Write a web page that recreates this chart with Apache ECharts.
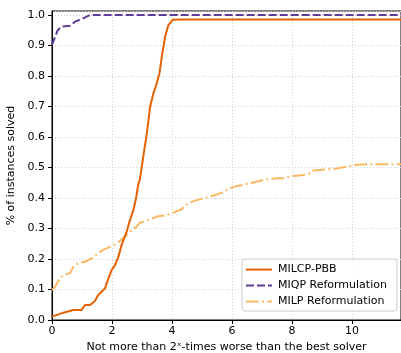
<!DOCTYPE html>
<html>
<head>
<meta charset="utf-8">
<script src="https://cdn.jsdelivr.net/npm/echarts@6/dist/echarts.min.js"></script>
<style>html,body{margin:0;padding:0;background:#fff;overflow:hidden;}#c{width:401px;height:353px;}</style>
</head>
<body>
<div id="c"></div>
<script>
const seriesNames = ['MILCP-PBB', 'MIQP Reformulation', 'MILP Reformulation'];

const pbbX = [0, 0.38, 0.71, 0.99, 1.1, 1.27, 1.43, 1.54, 1.77, 1.82, 1.99, 2.1, 2.21, 2.32, 2.49, 2.6, 2.71, 2.8, 2.88, 2.93, 3.04, 3.16, 3.27, 3.38, 3.49, 3.58, 3.66, 3.77, 3.88, 4.02, 4.3, 11.63];
const pbbY = [0.011, 0.024, 0.033, 0.033, 0.049, 0.049, 0.062, 0.082, 0.104, 0.12, 0.164, 0.18, 0.207, 0.246, 0.29, 0.328, 0.36, 0.399, 0.448, 0.46, 0.535, 0.612, 0.699, 0.743, 0.776, 0.809, 0.863, 0.929, 0.967, 0.984, 0.985, 0.985];

const miqpX = [0, 0.19, 0.32, 0.6, 0.77, 1.04, 1.27, 11.63];
const miqpY = [0.902, 0.95, 0.962, 0.965, 0.978, 0.989, 1.0, 1.0];

const milpX = [0, 0.1, 0.27, 0.38, 0.6, 0.71, 0.88, 1.1, 1.32, 1.54, 1.71, 1.93, 2.16, 2.43, 2.6, 2.82, 2.93, 3.16, 3.49, 3.82, 4.04, 4.32, 4.54, 4.82, 4.93, 5.27, 5.6, 5.93, 6.16, 6.6, 7.04, 7.49, 7.71, 8.04, 8.38, 8.6, 8.71, 9.16, 9.49, 9.82, 9.99, 10.1, 10.49, 11.63];
const milpY = [0.098, 0.109, 0.137, 0.148, 0.153, 0.175, 0.186, 0.191, 0.202, 0.219, 0.23, 0.24, 0.251, 0.273, 0.29, 0.306, 0.319, 0.326, 0.339, 0.344, 0.352, 0.363, 0.383, 0.393, 0.396, 0.404, 0.415, 0.432, 0.439, 0.448, 0.459, 0.465, 0.465, 0.472, 0.475, 0.481, 0.49, 0.494, 0.497, 0.503, 0.505, 0.508, 0.511, 0.511];

const xTicks = [0, 2, 4, 6, 8, 10];
const yTicks = [0.0, 0.1, 0.2, 0.3, 0.4, 0.5, 0.6, 0.7, 0.8, 0.9, 1.0];

const zip = (xs, ys) => xs.map((x, i) => [x, ys[i]]);
const font = 'DejaVu Sans';

const chart = echarts.init(document.getElementById('c'), null, {renderer: 'canvas'});
chart.setOption({
  animation: false,
  backgroundColor: '#fff',
  grid: {left: 52, right: 0, top: 11, bottom: 33, containLabel: false, outerBoundsMode: 'none',
    show: true, borderColor: '#000', borderWidth: 1, backgroundColor: 'transparent'},
  xAxis: {
    type: 'value', min: 0, max: 11.63, interval: 2,
    name: 'Not more than 2ˣ-times worse than the best solver',
    nameLocation: 'middle', nameGap: 22,
    nameTextStyle: {fontFamily: font, fontSize: 11, color: '#000'},
    axisLine: {lineStyle: {color: '#000', width: 1}},
    axisTick: {show: true, inside: false, length: 4, lineStyle: {color: '#000'}},
    axisLabel: {fontFamily: font, fontSize: 11, color: '#000', margin: 6, showMaxLabel: false,
      formatter: v => xTicks.includes(v) ? String(v) : ''},
    splitLine: {show: true, lineStyle: {color: '#d0d0d0', type: [1, 2], width: 1}}
  },
  yAxis: {
    type: 'value', min: 0, max: 1.013, interval: 0.1,
    name: '% of instances solved',
    nameLocation: 'middle', nameGap: 29,
    nameTextStyle: {fontFamily: font, fontSize: 11, color: '#000'},
    axisLine: {show: true, lineStyle: {color: '#000', width: 1}},
    axisTick: {show: true, inside: false, length: 4, lineStyle: {color: '#000'}},
    axisLabel: {fontFamily: font, fontSize: 11, color: '#000', margin: 7, showMaxLabel: false,
      formatter: v => {
        const t = yTicks.find(t => Math.abs(t - v) < 1e-6);
        return t === undefined ? '' : t.toFixed(1);
      }},
    splitLine: {show: true, lineStyle: {color: '#d0d0d0', type: [1, 2], width: 1}}
  },
  legend: {
    orient: 'vertical', left: 242, top: 259,
    padding: [5, 10, 4, 3], itemGap: 4.7, itemWidth: 26, itemHeight: 14,
    backgroundColor: 'rgba(255,255,255,0.85)', borderColor: '#cccccc', borderWidth: 1, borderRadius: 3,
    itemStyle: {opacity: 0},
    textStyle: {fontFamily: font, fontSize: 11, color: '#000', padding: [0, 0, 0, 1]},
    data: seriesNames
  },
  series: [
    {name: seriesNames[0], type: 'line', data: zip(pbbX, pbbY), symbol: 'none', z: 3,
      lineStyle: {color: '#e66101', width: 2}, itemStyle: {color: '#e66101'}},
    {name: seriesNames[1], type: 'line', data: zip(miqpX, miqpY), symbol: 'none', z: 4,
      lineStyle: {color: '#5e3c99', width: 2, type: [8, 3]}, itemStyle: {color: '#5e3c99'}},
    {name: seriesNames[2], type: 'line', data: zip(milpX, milpY), symbol: 'none', z: 2,
      lineStyle: {color: '#fdb863', width: 2, type: [12.8, 3.2, 2, 3.2]}, itemStyle: {color: '#fdb863'}}
  ]
});
</script>
</body>
</html>
